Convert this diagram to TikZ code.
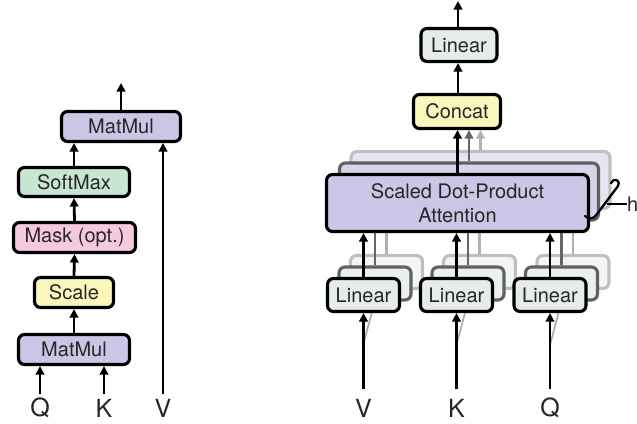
\documentclass[tikz,border=0pt]{standalone}
\usepackage{fontspec}
\setmainfont{TeX Gyre Heros}
\usetikzlibrary{arrows.meta}
\definecolor{cpurple}{RGB}{204,197,229}
\definecolor{cgreen}{RGB}{201,230,210}
\definecolor{cpink}{RGB}{246,202,222}
\definecolor{cyellow}{RGB}{251,246,188}
\definecolor{clinear}{RGB}{229,236,234}
\begin{document}
\begin{tikzpicture}[x=1pt,y=-1pt,
  box/.style={draw=black, line width=3.1pt, rounded corners=6pt, inner sep=0pt,
    font=\fontsize{20}{24}\selectfont, text=black!85},
  arr/.style={line width=2.8pt, -{Triangle[length=8.5pt,width=8.5pt]}},
  lbl/.style={font=\fontsize{25}{28}\selectfont, text=black!85}]
\useasboundingbox (0,0) rectangle (637,423);

% ---------- left panel ----------
\node[box, fill=cpurple, minimum width=119pt, minimum height=30pt] (mm2) at (121,126.5) {MatMul};
\node[box, fill=cgreen, minimum width=111pt, minimum height=29pt] (sm) at (74,182) {SoftMax};
\node[box, fill=cpink, minimum width=122pt, minimum height=30pt] (mask) at (74.5,237.5) {Mask (opt.)};
\node[box, fill=cyellow, minimum width=79pt, minimum height=30pt] (scale) at (74,292.5) {Scale};
\node[box, fill=cpurple, minimum width=111pt, minimum height=30pt] (mm1) at (74,349.5) {MatMul};

\coordinate (out1) at (121,83);
\coordinate (qa) at (40,394);
\coordinate (ka) at (104,394);
\coordinate (va) at (163,394);
\node[lbl] (ql) at (40,408) {Q};
\node[lbl] (kl) at (104,408) {K};
\node[lbl] (vl) at (163,408) {V};

\draw[arr] (qa) -- (qa |- mm1.south);
\draw[arr] (ka) -- (ka |- mm1.south);
\draw[arr] (va) -- (va |- mm2.south);
\draw[arr] (mm1.north) -- (scale.south);
\draw[arr] (scale.north) -- (mask.south);
\draw[arr] (mask.north) -- (sm.south);
\draw[arr] (sm.north) -- (sm.north |- mm2.south);
\draw[arr] (mm2.north) -- (out1);

% ---------- right panel ----------
\node[box, fill=clinear, minimum width=76pt, minimum height=33pt] (lintop) at (459,45) {Linear};
\node[box, fill=cyellow, minimum width=87pt, minimum height=34pt] (concat) at (457,111.5) {Concat};
\coordinate (out2) at (458,1);
\draw[arr] (lintop.north -| out2) -- (out2);
\draw[arr] (concat.north -| out2) -- (lintop.south -| out2);

% back copies (heads)
\foreach \k/\bc/\sf/\lf/\ac in {2/black!25/cpurple!45!white/clinear!50!white/black!30,
                                1/black!62/cpurple!75!white/clinear!80!white/black!60}{
  \begin{scope}[shift={(11.5*\k,-11.5*\k)}]
    \node[box, draw=\bc, fill=\sf, minimum width=259pt, minimum height=57pt] (sdpa\k) at (457.5,203) {};
    \node[box, draw=\bc, fill=\lf, minimum width=72pt, minimum height=33pt] (lv\k) at (363.5,295) {};
    \node[box, draw=\bc, fill=\lf, minimum width=72pt, minimum height=33pt] (lk\k) at (456.5,295) {};
    \node[box, draw=\bc, fill=\lf, minimum width=72pt, minimum height=33pt] (lq\k) at (550,295) {};
    \draw[arr, draw=\ac] (lv\k.north) -- (lv\k.north |- sdpa\k.south);
    \draw[arr, draw=\ac] (lk\k.north) -- (lk\k.north |- sdpa\k.south);
    \draw[arr, draw=\ac] (lq\k.north) -- (lq\k.north |- sdpa\k.south);
  \end{scope}
  \draw[arr, draw=\ac] (sdpa\k.north) -- (sdpa\k.north |- concat.south);
}

% faint diagonal inputs to back heads
\coordinate (vd) at (363,345);
\coordinate (kd) at (456.5,345);
\coordinate (qd) at (550,345);
\draw[black!35, line width=1.6pt] (vd) -- (lv1.south);
\draw[black!35, line width=1.6pt] (kd) -- (lk1.south);
\draw[black!35, line width=1.6pt] (qd) -- (lq1.south);

% front head
\node[box, fill=cpurple, minimum width=262pt, minimum height=57pt, align=center] (sdpa) at (457.5,203)
  {Scaled Dot-Product\\Attention};
\node[box, fill=clinear, minimum width=72pt, minimum height=33pt] (lv) at (363.5,295) {Linear};
\node[box, fill=clinear, minimum width=72pt, minimum height=33pt] (lk) at (456.5,295) {Linear};
\node[box, fill=clinear, minimum width=72pt, minimum height=33pt] (lq) at (550,295) {Linear};

\draw[arr] (lv.north) -- (lv.north |- sdpa.south);
\draw[arr] (lk.north) -- (lk.north |- sdpa.south);
\draw[arr] (lq.north) -- (lq.north |- sdpa.south);
\draw[arr] (sdpa.north) -- (sdpa.north |- concat.south);

\coordinate (vb) at (363.5,389);
\coordinate (kb) at (456.5,389);
\coordinate (qb) at (550,389);
\draw[arr] (vb) -- (lv.south);
\draw[arr] (kb) -- (lk.south);
\draw[arr] (qb) -- (lq.south);
\node[lbl] (vl2) at (363.5,408) {V};
\node[lbl] (kl2) at (456.5,408) {K};
\node[lbl] (ql2) at (550,408) {Q};

% h brace
\coordinate (bm) at (607,204);
\draw[line width=2.3pt, line cap=round, line join=round]
  (611,183) .. controls (613,178) and (621,179) .. (618,186) -- (597,214)
  .. controls (594,219) and (589,220) .. (585,216);
\node[font=\fontsize{20}{22}\selectfont, anchor=west, inner sep=0pt, text=black!85] (hl) at (627,204) {h};
\draw[line width=1.4pt] (bm) -- (hl.west);
\end{tikzpicture}
\end{document}
